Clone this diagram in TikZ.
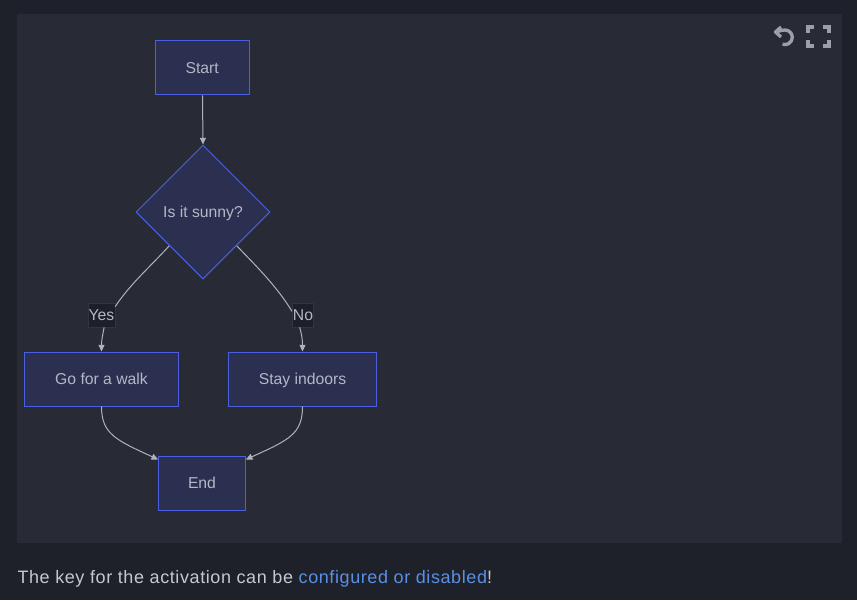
\documentclass[tikz,border=0pt]{standalone}
\usepackage{fontspec}
\setmainfont{Liberation Sans}
\newfontfamily\captionfont[LetterSpace=3.3]{Liberation Sans}
\usetikzlibrary{shapes.geometric,arrows.meta}
\definecolor{pagebg}{HTML}{1E2129}
\definecolor{panelbg}{HTML}{282A36}
\definecolor{nodefill}{HTML}{2C3050}
\definecolor{nodeline}{HTML}{4A60E0}
\definecolor{nodetext}{HTML}{B4B7C6}
\definecolor{edgecol}{HTML}{B0B2BE}
\definecolor{labelbg}{HTML}{1E2029}
\definecolor{labelline}{HTML}{32343F}
\definecolor{iconcol}{HTML}{9C9EAA}
\definecolor{bodytext}{HTML}{C6C8D0}
\definecolor{linktext}{HTML}{5A8FE6}
\tikzset{
every picture/.style={
line width=0.75pt
}}
\begin{document}
\begin{tikzpicture}[x=0.75pt, y=-0.75pt,
block/.style = {rectangle, draw=nodeline, fill=nodefill, text=nodetext, line width=0.75pt, font=\fontsize{11.8}{14}\selectfont, inner sep=0pt, text height=8.6pt, text depth=0pt, minimum height=40.5pt},
choice/.style = {diamond, draw=nodeline, fill=nodefill, text=nodetext, line width=0.75pt, font=\fontsize{11.8}{14}\selectfont, inner sep=0pt, text height=8.6pt, text depth=0pt, minimum width=100.5pt, minimum height=100.5pt, aspect=1},
tag/.style = {rectangle, draw=labelline, fill=labelbg, text=nodetext, line width=0.5pt, font=\fontsize{11.8}{14}\selectfont, inner sep=0pt, text height=8.6pt, text depth=0pt, minimum height=18pt},
link/.style = {draw=edgecol, line width=0.75pt},
linkarrow/.style = {link, -{Triangle[length=5pt, width=4.5pt]}},
icon/.style = {draw=iconcol, line width=2.5pt}]

% page and panel
\fill[pagebg] (0,0) rectangle (857,600);
\fill[panelbg] (17,14) rectangle (842,543);

% nodes
\node[block, minimum width=70.5pt] (start) at (202.2,67.8) {Start};
\node[choice] (sunny) at (203,212) {Is it sunny?};
\node[block, minimum width=115pt] (walk) at (101.5,379) {Go for a walk};
\node[block, minimum width=111.5pt] (indoors) at (302.5,379) {Stay indoors};
\node[block, minimum width=65pt] (finish) at (202,483) {End};
\node[tag, minimum width=20pt] (yes) at (101.5,315) {Yes};
\node[tag, minimum width=16pt] (no) at (303,315) {No};

% connectors
\draw[linkarrow] (start) -- (sunny.north);
\draw[link] (sunny.south west) .. controls (152,265) and (130,284) .. ([yshift=-3pt]yes.north east);
\draw[linkarrow] ([xshift=2pt]yes.south) .. controls (102.5,335) and (101.5,341) .. (walk.north);
\draw[link] (sunny.south east) .. controls (254,264) and (276,285) .. ([yshift=-6.5pt]no.north west);
\draw[linkarrow] ([xshift=-2.5pt]no.south) .. controls (302,335) and (302.5,341) .. (indoors.north);
\draw[linkarrow] (walk.south) .. controls (101.5,434) and (116,440) .. ([yshift=-3pt]finish.north west);
\draw[linkarrow] (indoors.south) .. controls (302.5,434) and (289,440) .. ([yshift=-3pt]finish.north east);

% reset and fullscreen icons
\draw[icon, line join=round] (781,27) -- (775.5,32) -- (781,37);
\draw[icon] (775.5,32) -- (781,30.5) -- (785,30) arc [start angle=-90, end angle=110, radius=7.3];
\draw[icon] (808,33) -- (808,27) -- (814,27);
\draw[icon] (823,27) -- (829,27) -- (829,33);
\draw[icon] (808,40) -- (808,46) -- (814,46);
\draw[icon] (823,46) -- (829,46) -- (829,40);

% caption
\node[anchor=base west, inner sep=0pt, text=bodytext, font=\captionfont\fontsize{13.5}{16}\selectfont] (caption) at (17,583) {The key for the activation can be \textcolor{linktext}{configured or disabled}!};
\end{tikzpicture}
\end{document}
